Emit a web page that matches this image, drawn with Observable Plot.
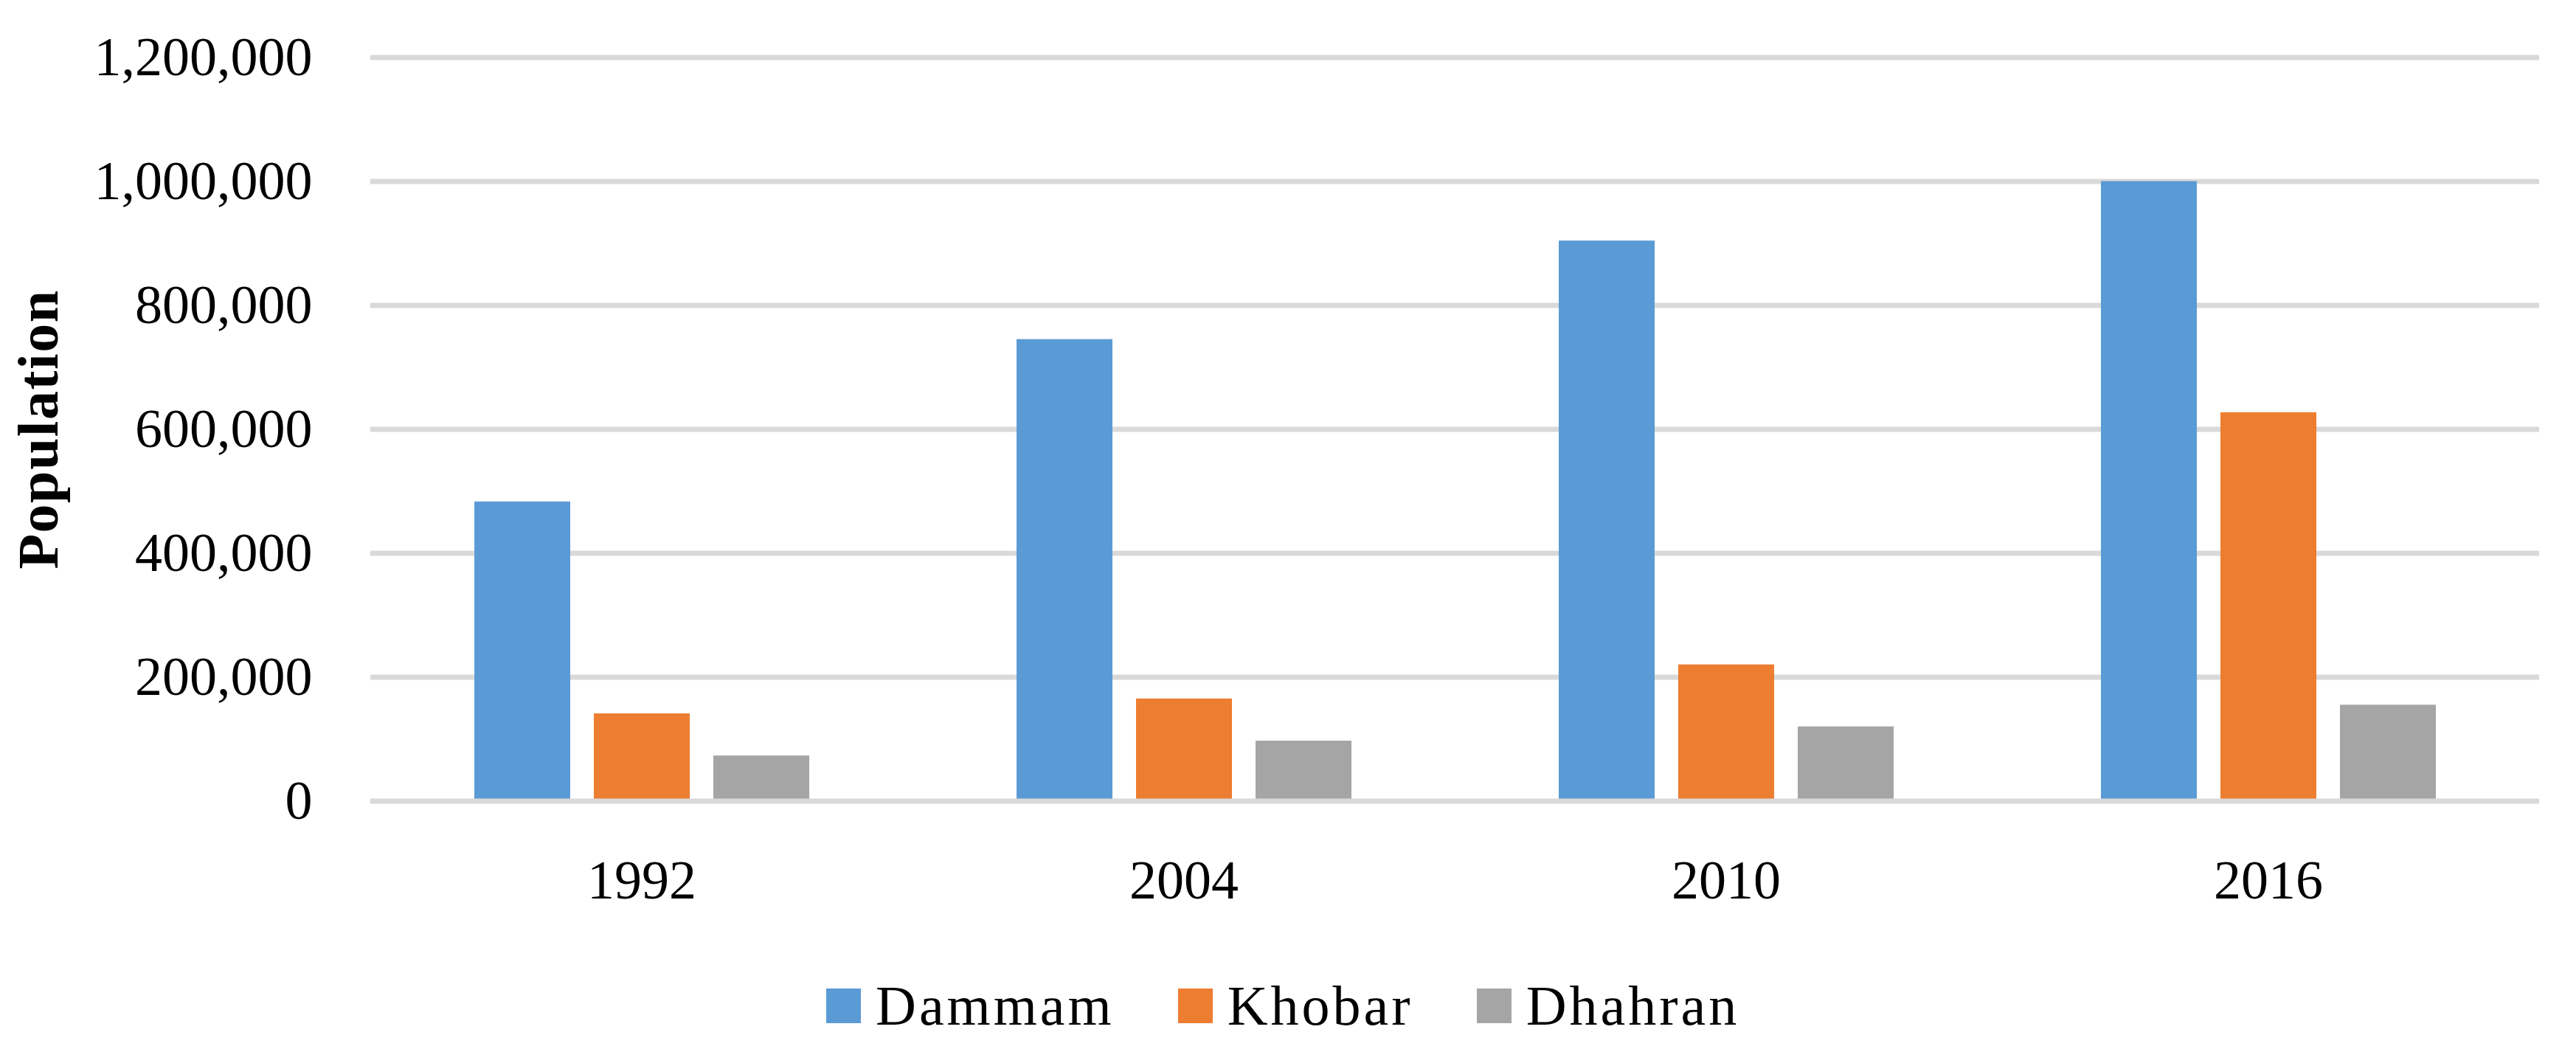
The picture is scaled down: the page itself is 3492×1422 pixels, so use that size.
<!DOCTYPE html>
<html><head><meta charset="utf-8">
<script src="https://cdn.jsdelivr.net/npm/d3@7"></script>
<script src="https://cdn.jsdelivr.net/npm/@observablehq/plot@0.6"></script>
<style>
body{margin:0;background:#fff;}
#chart{width:3492px;}
g[aria-label="y-axis label"] text{font-weight:bold;letter-spacing:1.5px;font-size:78px;}
#legend{width:3492px;padding-top:50px;}
.lg-swatches-wrap{justify-content:flex-start !important;margin-left:1120px !important;}
.lg-swatch{margin-right:86px !important;}
.lg-swatch > svg{margin-right:20px !important;}
</style></head><body><div id="chart"></div><div id="legend"></div>
<script>
const years = ["1992", "2004", "2010", "2016"];
const cities = ["Dammam", "Khobar", "Dhahran"];
const colors = ["#5B9BD5", "#ED7D31", "#A5A5A5"];
const dammam = [483000, 745000, 904000, 1000000];
const khobar = [141000, 165000, 220000, 627000];
const dhahran = [73000, 97000, 120000, 155000];
const yTicks = [0, 200000, 400000, 600000, 800000, 1000000, 1200000];

const series = {Dammam: dammam, Khobar: khobar, Dhahran: dhahran};
const data = years.flatMap((year, i) => cities.map(city => ({year, city, pop: series[city][i]})));

const font = "'Liberation Serif', 'Times New Roman', serif";
const plot = Plot.plot({
  width: 3492, height: 1270,
  marginTop: 77.5, marginBottom: 184.5, marginLeft: 500, marginRight: 49,
  style: {fontFamily: font, fontSize: "74px", color: "#000", background: "#fff"},
  fx: {domain: years, padding: 0, label: null, tickSize: 0, tickPadding: 79},
  x: {domain: cities, paddingInner: 0.2, paddingOuter: 0.856, axis: null},
  y: {domain: [0, 1200000]},
  color: {domain: cities, range: colors},
  marks: [
    Plot.gridY(yTicks.filter(d => d > 0), {stroke: "#d9d9d9", strokeOpacity: 1, strokeWidth: 7}),
    Plot.axisY(yTicks, {tickSize: 0, tickPadding: 79, tickFormat: d3.format(","), label: "Population", labelArrow: "none", labelAnchor: "center", labelOffset: 480}),
    Plot.barY(data, {fx: "year", x: "city", y: "pop", fill: "city"}),
    Plot.ruleY([0], {stroke: "#d9d9d9", strokeWidth: 7})
  ]
});
document.getElementById("chart").append(plot);

const legend = Plot.legend({
  color: {domain: cities, range: colors},
  legend: "swatches",
  swatchSize: 47,
  className: "lg",
  style: {fontFamily: font, fontSize: "76px", letterSpacing: "4px", color: "#000"}
});
document.getElementById("legend").append(legend);
</script></body></html>
